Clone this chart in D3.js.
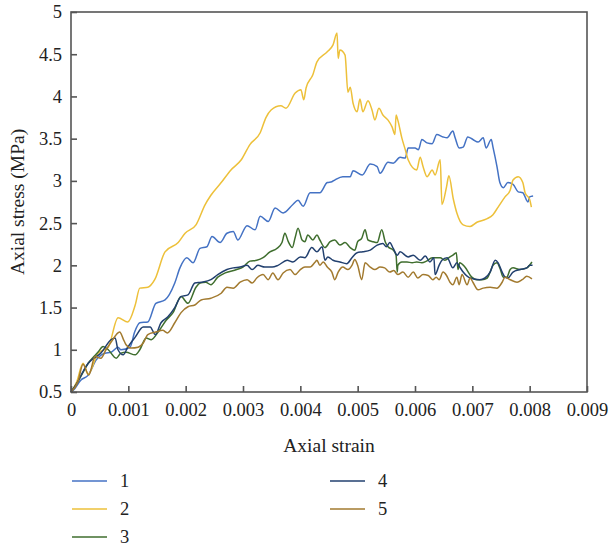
<!DOCTYPE html>
<html>
<head>
<meta charset="utf-8">
<script src="https://cdn.jsdelivr.net/npm/d3@7"></script>
<style>
  html, body { margin: 0; padding: 0; background: #fff; }
  svg { display: block; }
  text { font-family: "Liberation Serif", "Times New Roman", serif; fill: #222; }
</style>
</head>
<body>
<svg id="chart" width="610" height="548"></svg>
<script>
// ---- data (strain, stress in MPa) ----
const seriesNames = ["1", "2", "3", "4", "5"];
const seriesColors = ["#4472C4", "#EDC03A", "#3F6E2E", "#22406F", "#A27A2F"];

const series1 = [[0,0.5],[0.00004,0.52],[0.00017,0.64],[0.0003,0.7],[0.00044,0.88],[0.00059,0.96],[0.0007,0.97],[0.00082,1.03],[0.00087,1.0],[0.00103,1.03],[0.00111,1.21],[0.0012,1.32],[0.00134,1.33],[0.00148,1.55],[0.00164,1.59],[0.00181,1.79],[0.0019,1.97],[0.00202,2.09],[0.00213,2.03],[0.00225,2.2],[0.00237,2.22],[0.00246,2.34],[0.0026,2.27],[0.00272,2.38],[0.00283,2.4],[0.00291,2.3],[0.00307,2.47],[0.00321,2.42],[0.0033,2.58],[0.00344,2.52],[0.00356,2.68],[0.0037,2.62],[0.00387,2.72],[0.00396,2.77],[0.00405,2.7],[0.00417,2.86],[0.00434,2.86],[0.00447,2.98],[0.00455,2.99],[0.0046,3.01],[0.00474,3.05],[0.00487,3.05],[0.00492,3.12],[0.00508,3.07],[0.00522,3.2],[0.00534,3.17],[0.00539,3.09],[0.00553,3.22],[0.00562,3.21],[0.00574,3.28],[0.00583,3.27],[0.00588,3.39],[0.006,3.39],[0.00606,3.37],[0.00612,3.49],[0.00621,3.45],[0.0063,3.44],[0.00638,3.55],[0.00649,3.52],[0.00656,3.51],[0.00666,3.59],[0.0067,3.51],[0.00677,3.39],[0.00684,3.4],[0.00692,3.52],[0.00701,3.49],[0.0071,3.46],[0.00719,3.51],[0.00724,3.39],[0.00733,3.49],[0.00736,3.4],[0.00743,3.17],[0.00748,2.98],[0.00754,2.92],[0.00762,2.98],[0.00771,2.96],[0.0078,2.87],[0.00788,2.86],[0.00797,2.75],[0.008,2.81],[0.00806,2.82]];

const series2 = [[0,0.5],[0.0001,0.62],[0.00021,0.84],[0.0003,0.71],[0.00047,0.96],[0.00065,1.03],[0.00082,1.38],[0.00099,1.33],[0.00112,1.53],[0.0012,1.73],[0.00134,1.74],[0.00146,1.83],[0.00164,2.16],[0.00187,2.27],[0.00199,2.38],[0.00218,2.48],[0.00234,2.72],[0.00244,2.83],[0.00262,2.98],[0.00279,3.13],[0.00297,3.25],[0.00312,3.43],[0.0033,3.57],[0.0034,3.75],[0.00349,3.84],[0.00366,3.89],[0.00375,3.86],[0.00391,4.04],[0.00401,4.08],[0.00406,3.96],[0.0041,4.1],[0.00422,4.26],[0.00429,4.41],[0.00447,4.53],[0.00457,4.61],[0.00464,4.75],[0.00466,4.45],[0.00469,4.55],[0.00478,4.49],[0.00483,4.05],[0.00487,4.11],[0.00492,3.92],[0.00499,3.82],[0.00504,3.97],[0.00509,3.82],[0.00518,3.95],[0.00525,3.84],[0.0053,3.72],[0.00537,3.86],[0.00544,3.78],[0.00553,3.72],[0.0056,3.64],[0.00565,3.55],[0.00567,3.78],[0.0057,3.72],[0.00577,3.51],[0.00583,3.37],[0.00588,3.25],[0.00603,3.13],[0.00609,3.28],[0.00614,3.17],[0.00621,3.05],[0.0063,3.13],[0.00635,3.07],[0.00644,3.25],[0.00647,2.72],[0.00655,2.93],[0.00659,3.06],[0.00667,2.78],[0.00673,2.62],[0.00684,2.48],[0.00696,2.46],[0.00708,2.51],[0.00725,2.55],[0.00736,2.6],[0.00745,2.69],[0.00757,2.81],[0.00766,2.89],[0.00771,3.01],[0.0078,3.05],[0.00788,2.98],[0.00792,2.86],[0.008,2.78],[0.00803,2.69]];

const series3 = [[0,0.5],[0.0001,0.6],[0.0002,0.72],[0.0003,0.84],[0.0004,0.92],[0.00048,0.98],[0.00056,1.04],[0.00065,1.0],[0.00079,0.9],[0.00087,0.96],[0.00096,0.97],[0.00112,0.94],[0.0012,1.0],[0.00131,1.14],[0.0014,1.12],[0.00152,1.21],[0.00166,1.35],[0.00178,1.44],[0.00192,1.63],[0.00204,1.55],[0.00218,1.74],[0.00225,1.79],[0.00235,1.8],[0.00244,1.77],[0.00256,1.86],[0.00269,1.91],[0.00289,1.95],[0.003,1.98],[0.00312,2.05],[0.00324,2.06],[0.00335,2.09],[0.00347,2.16],[0.00359,2.2],[0.00368,2.27],[0.00373,2.38],[0.00379,2.28],[0.00386,2.21],[0.00391,2.33],[0.00396,2.44],[0.00403,2.3],[0.00408,2.28],[0.00413,2.36],[0.00422,2.3],[0.00429,2.36],[0.00434,2.3],[0.00443,2.21],[0.00452,2.28],[0.0046,2.3],[0.00469,2.24],[0.00478,2.27],[0.00487,2.21],[0.00495,2.18],[0.005,2.28],[0.00507,2.32],[0.00513,2.42],[0.00518,2.3],[0.00527,2.28],[0.00534,2.27],[0.00542,2.42],[0.00548,2.28],[0.00553,2.22],[0.00562,2.18],[0.00567,2.12],[0.00569,1.92],[0.0057,2.0],[0.00577,2.04],[0.00586,2.04],[0.00595,2.03],[0.00603,2.04],[0.00612,2.03],[0.0062,2.05],[0.0063,2.09],[0.00644,2.09],[0.00652,2.06],[0.00661,2.1],[0.00666,2.12],[0.00672,2.15],[0.00675,1.95],[0.00678,2.03],[0.00687,1.98],[0.00699,1.86],[0.00708,1.83],[0.00717,1.83],[0.00726,1.85],[0.00731,1.92],[0.00736,2.0],[0.00743,2.03],[0.00748,1.97],[0.00754,1.86],[0.0076,1.86],[0.00766,1.95],[0.00771,1.97],[0.00783,1.95],[0.00795,1.97],[0.00804,2.04]];

const series4 = [[0,0.5],[0.0001,0.6],[0.0002,0.73],[0.0003,0.84],[0.00044,0.92],[0.00052,0.96],[0.0007,1.12],[0.00077,1.14],[0.00082,1.0],[0.00091,0.94],[0.00099,1.03],[0.00112,1.15],[0.00126,1.27],[0.00138,1.27],[0.00147,1.18],[0.00157,1.32],[0.00169,1.39],[0.00181,1.5],[0.00192,1.63],[0.00204,1.65],[0.00216,1.79],[0.00227,1.8],[0.00244,1.83],[0.00256,1.89],[0.00272,1.95],[0.00283,1.97],[0.00295,1.98],[0.00307,2.0],[0.00316,1.95],[0.00326,2.0],[0.00338,1.98],[0.00351,1.98],[0.00361,2.0],[0.00377,2.06],[0.00387,2.04],[0.004,2.1],[0.00408,2.09],[0.0042,2.21],[0.00429,2.16],[0.00438,2.22],[0.00443,2.06],[0.00448,2.1],[0.00457,2.06],[0.00469,2.04],[0.00481,2.02],[0.0049,2.09],[0.00499,2.15],[0.00509,2.16],[0.00522,2.18],[0.00534,2.24],[0.00544,2.26],[0.0055,2.22],[0.00556,2.27],[0.00562,2.2],[0.00569,2.12],[0.00574,2.16],[0.00588,2.1],[0.00597,2.12],[0.00609,2.06],[0.00618,2.11],[0.00626,2.04],[0.00633,2.09],[0.00635,1.89],[0.00642,2.0],[0.00647,2.06],[0.00656,2.09],[0.00666,1.97],[0.00673,2.03],[0.00678,1.98],[0.00684,1.92],[0.00696,1.85],[0.00713,1.83],[0.00722,1.85],[0.00731,1.92],[0.0074,2.06],[0.00745,2.03],[0.00752,1.92],[0.00757,1.86],[0.00762,1.85],[0.00771,1.92],[0.00783,1.95],[0.00795,1.97],[0.008,2.0],[0.00805,2.0]];

const series5 = [[0,0.5],[0.00012,0.62],[0.00021,0.83],[0.00031,0.7],[0.00042,0.92],[0.00052,0.9],[0.00061,1.0],[0.0007,1.09],[0.00082,1.2],[0.00085,1.21],[0.00091,1.13],[0.00096,1.06],[0.00105,1.02],[0.00117,1.03],[0.00126,1.08],[0.00134,1.18],[0.00148,1.21],[0.0016,1.23],[0.00168,1.2],[0.00181,1.32],[0.00192,1.44],[0.00204,1.51],[0.00216,1.53],[0.00227,1.59],[0.00244,1.61],[0.00262,1.67],[0.00272,1.74],[0.00283,1.73],[0.00295,1.8],[0.00307,1.83],[0.00316,1.79],[0.00324,1.85],[0.00335,1.89],[0.00344,1.83],[0.00352,1.91],[0.00361,1.83],[0.0037,1.91],[0.00382,1.95],[0.00391,1.89],[0.004,1.95],[0.00408,1.98],[0.00417,1.98],[0.00426,2.04],[0.00429,2.06],[0.00434,2.0],[0.0044,2.04],[0.00447,1.98],[0.00455,1.92],[0.0046,1.83],[0.00466,1.92],[0.00474,1.98],[0.00483,1.95],[0.0049,2.0],[0.00495,2.07],[0.005,2.0],[0.00507,1.83],[0.00513,2.03],[0.00522,1.98],[0.0053,1.95],[0.00539,1.98],[0.00547,1.97],[0.00556,1.92],[0.00563,1.94],[0.0057,1.89],[0.00579,1.92],[0.00588,1.86],[0.00597,1.92],[0.00605,1.85],[0.00614,1.89],[0.00623,1.88],[0.00631,1.83],[0.00637,1.86],[0.00642,1.83],[0.00649,1.92],[0.00655,1.88],[0.00661,1.8],[0.00666,1.77],[0.00673,1.86],[0.00677,1.77],[0.00682,1.89],[0.00691,1.77],[0.00696,1.85],[0.00701,1.8],[0.0071,1.71],[0.00719,1.73],[0.00731,1.74],[0.00743,1.73],[0.00752,1.8],[0.00757,1.86],[0.00766,1.83],[0.00778,1.8],[0.00787,1.83],[0.00795,1.87],[0.00804,1.84]];

const xTicks = [0, 0.001, 0.002, 0.003, 0.004, 0.005, 0.006, 0.007, 0.008, 0.009];
const xTickLabels = ["0", "0.001", "0.002", "0.003", "0.004", "0.005", "0.006", "0.007", "0.008", "0.009"];
const yTicks = [0.5, 1, 1.5, 2, 2.5, 3, 3.5, 4, 4.5, 5];
const yTickLabels = ["0.5", "1", "1.5", "2", "2.5", "3", "3.5", "4", "4.5", "5"];
const xTitle = "Axial strain";
const yTitle = "Axial stress (MPa)";

// ---- layout ----
const allSeries = [series1, series2, series3, series4, series5];
const margin = { left: 71, top: 12, right: 23, bottom: 156 };
const W = 610, H = 548;
const iw = W - margin.left - margin.right;
const ih = H - margin.top - margin.bottom;

const svg = d3.select("#chart");
const g = svg.append("g").attr("transform", `translate(${margin.left},${margin.top})`);

const x = d3.scaleLinear().domain([0, 0.009]).range([0, iw]);
const y = d3.scaleLinear().domain([0.5, 5]).range([ih, 0]);

const axisColor = "#555";

// lines
const line = d3.line().x(d => x(d[0])).y(d => y(d[1])).curve(d3.curveMonotoneX);
g.append("g").selectAll("path").data(allSeries).join("path")
  .attr("d", line)
  .attr("fill", "none")
  .attr("stroke", (d, i) => seriesColors[i])
  .attr("stroke-width", 1.5)
  .attr("stroke-linejoin", "round");

// frame
g.append("rect").attr("x", 0).attr("y", 0).attr("width", iw).attr("height", ih)
  .attr("fill", "none").attr("stroke", axisColor).attr("stroke-width", 1.6);

// axes
const xAxis = d3.axisBottom(x).tickValues(xTicks)
  .tickFormat((d, i) => xTickLabels[i]).tickSizeInner(-6).tickSizeOuter(0).tickPadding(11);
const yAxis = d3.axisLeft(y).tickValues(yTicks)
  .tickFormat((d, i) => yTickLabels[i]).tickSizeInner(-6).tickSizeOuter(0).tickPadding(9);

const gx = g.append("g").attr("transform", `translate(0,${ih})`).call(xAxis);
const gy = g.append("g").call(yAxis);
[gx, gy].forEach(a => {
  a.select(".domain").remove();
  a.selectAll(".tick line").attr("stroke", axisColor).attr("stroke-width", 1.6);
  a.selectAll(".tick text").attr("fill", "#222")
    .style("font-family", '"Liberation Serif", serif').style("font-size", "18.5px");
});

// titles
svg.append("text").attr("x", margin.left + iw / 2).attr("y", 452)
  .attr("text-anchor", "middle").style("font-size", "19.5px").text(xTitle);
svg.append("text").attr("transform", `translate(24,${margin.top + ih / 2}) rotate(-90)`)
  .attr("text-anchor", "middle").style("font-size", "19.5px").text(yTitle);

// legend
const legendPos = [[72, 481], [72, 509], [72, 537], [330, 481], [330, 509]];
const lg = svg.append("g");
seriesNames.forEach((name, i) => {
  const [lx, ly] = legendPos[i];
  lg.append("line").attr("x1", lx).attr("x2", lx + 35).attr("y1", ly).attr("y2", ly)
    .attr("stroke", seriesColors[i]).attr("stroke-width", 1.5);
  lg.append("text").attr("x", lx + 48).attr("y", ly + 6)
    .style("font-size", "18.5px").text(name);
});
</script>
</body>
</html>
